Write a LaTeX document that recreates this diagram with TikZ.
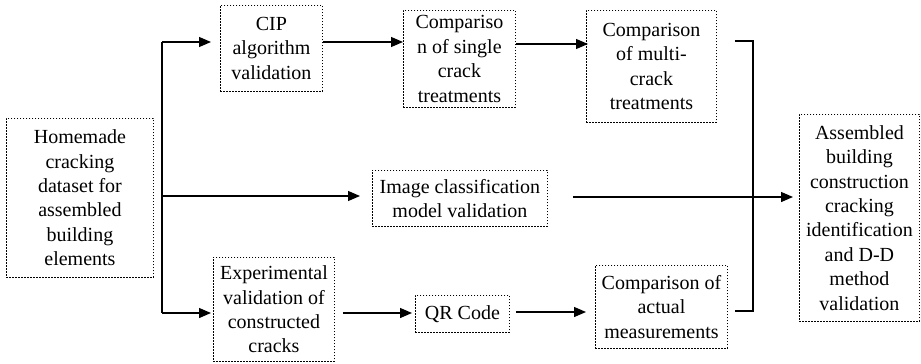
\documentclass[tikz,border=0pt]{standalone}
\usepackage{fontspec}
\setmainfont{Liberation Serif}
\usetikzlibrary{arrows.meta}
\begin{document}
\begin{tikzpicture}[x=1pt,y=-1pt,
 box/.style={draw, line width=0.9pt, dash pattern=on 1.6pt off 1.4pt, inner sep=0pt, align=center,
   font=\fontsize{20}{24.4}\selectfont, anchor=north west},
 arr/.style={line width=1.3pt, -{Triangle[length=12pt,width=10pt]}},
 ln/.style={line width=1.3pt}]
\useasboundingbox (0,0) rectangle (921,364);
% boxes
\node[box, minimum width=147, minimum height=159] (home) at (6,118) {Homemade\\cracking\\dataset for\\assembled\\building\\elements};
\node[box, minimum width=102, minimum height=86] (cip) at (220,5) {CIP\\algorithm\\validation};
\node[box, minimum width=112, minimum height=97] (single) at (403,10) {Compariso\\n of single\\crack\\treatments};
\node[box, minimum width=130, minimum height=112] (multi) at (586,10) {Comparison\\of multi-\\crack\\treatments};
\node[box, minimum width=175, minimum height=56] (image) at (372,170) {Image classification\\model validation};
\node[box, minimum width=120, minimum height=207] (final) at (799,114) {Assembled\\building\\construction\\cracking\\identification\\and D-D\\method\\validation};
\node[box, minimum width=121, minimum height=104] (exp) at (213,257) {Experimental\\validation of\\constructed\\cracks};
\node[box, minimum width=94, minimum height=37] (qr) at (415,295) {QR Code};
\node[box, minimum width=132, minimum height=83] (actual) at (595,265) {Comparison of\\actual\\measurements};
% coordinates
\coordinate (ttop) at (162,42);
\coordinate (tmid) at (162,196);
\coordinate (tbot) at (162,313);
\coordinate (ya) at (0,44);
\coordinate (yb) at (0,197);
\coordinate (yc) at (0,312);
\coordinate (jt) at (753,41);
\coordinate (jb) at (753,311);
% connectors
\draw[ln] (ttop) -- (tbot);
\draw[arr, shorten >=9] (ttop) -- (cip.west |- ttop);
\draw[arr] (cip.east |- ttop) -- (single.west |- ttop);
\draw[arr, shorten >=-2] (single.east |- ya) -- (multi.west |- ya);
\draw[arr, shorten >=12] (tmid) -- (image.west |- tmid);
\draw[arr, shorten <=25, shorten >=6] (image.east |- yb) -- (final.west |- yb);
\draw[arr, shorten >=2] (tbot) -- (exp.west |- tbot);
\draw[arr, shorten <=8, shorten >=3] (exp.east |- tbot) -- (qr.west |- tbot);
\draw[arr, shorten <=6, shorten >=9] (qr.east |- yc) -- (actual.west |- yc);
\draw[ln] ([xshift=18]multi.east |- jt) -- (jt) -- (jb) -- ([xshift=7]actual.east |- jb);
\end{tikzpicture}
\end{document}
